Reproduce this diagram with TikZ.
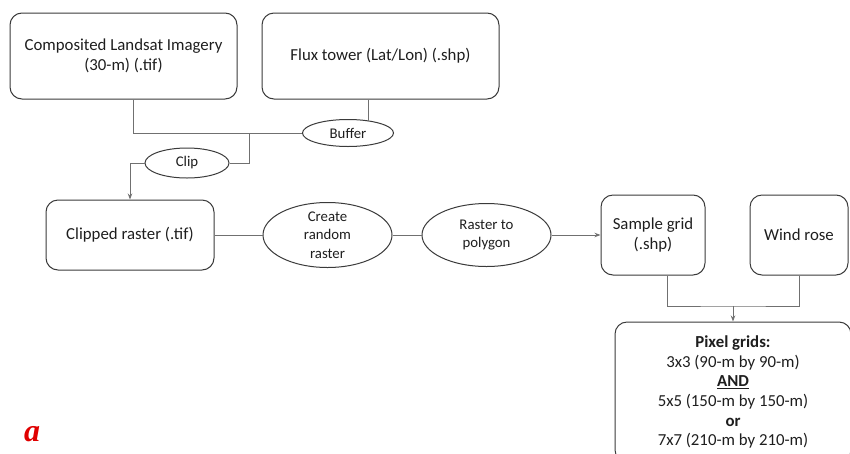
\documentclass[tikz,border=0pt]{standalone}
\usepackage{fontspec}
\setmainfont{Carlito}
\newfontfamily\tagfont{Liberation Serif}
\usepackage{xcolor}
\definecolor{boxLine}{HTML}{3A3A3A}
\definecolor{wireGray}{HTML}{707070}
\definecolor{textDark}{HTML}{1E1E1E}
\definecolor{labelRed}{HTML}{E00000}
\usetikzlibrary{arrows.meta, shapes.geometric}

\begin{document}
\begin{tikzpicture}[
		x=1pt, y=-1pt,
		box/.style={
			draw=boxLine,
			line width=1pt,
			rounded corners=12pt,
			align=center,
			text=textDark,
			font=\fontsize{16.8}{19.7}\selectfont
		},
		tool/.style={
			draw=boxLine,
			ellipse,
			line width=1pt,
			align=center,
			inner xsep=0pt,
			text=textDark,
			font=\fontsize{14.8}{18.5}\selectfont
		},
		wire/.style={draw=wireGray, line width=1pt},
		arrow/.style={wire, -{Stealth[length=6pt, width=4.5pt]}}
		]
		
		\clip (0,0) rectangle (850,453);
		
		\node[box, minimum width=227pt, minimum height=86pt] (landsat) at (123.5,56) {Composited Landsat Imagery\\(30-m) (.tif)};
		\node[box, minimum width=237pt, minimum height=86pt] (flux) at (380.5,56) {Flux tower (Lat/Lon) (.shp)};
		\node[tool, minimum width=91pt, minimum height=27pt] (buffer) at (348,133) {Buffer};
		\node[tool, minimum width=84pt, minimum height=30pt] (clip) at (187,163) {Clip};
		\node[box, minimum width=168pt, minimum height=70pt] (clipped) at (130,235) {Clipped raster (.tif)};
		\node[tool, minimum width=129pt, minimum height=65pt, inner ysep=-8pt] (random) at (327.5,235) {Create\\random\\raster};
		\node[tool, minimum width=129pt, minimum height=63pt] (topoly) at (486.5,235) {Raster to\\polygon};
		\node[box, minimum width=104pt, minimum height=80pt] (grid) at (653,235) {Sample grid\\(.shp)};
		\node[box, minimum width=98pt, minimum height=80pt] (wind) at (799,235) {Wind rose};
		\node[box, minimum width=236pt, minimum height=140pt] (pixel) at (733,392) {\textbf{Pixel grids:}\\3x3 (90-m by 90-m)\\\underline{\textbf{AND}}\\5x5 (150-m by 150-m)\\\textbf{or}\\7x7 (210-m by 210-m)};
		\node[text=labelRed, font=\fontsize{32}{32}\selectfont\tagfont\bfseries\itshape] (tag) at (32,434) {a};
		
		\coordinate (join) at (249,0 |- buffer.west);
		\coordinate (merge) at (733,306);
		
		\draw[wire] ([xshift=9.5pt]landsat.south) |- (buffer.west);
		\draw[wire] (flux.south -| buffer.31) -- (buffer.31);
		\draw[wire] (join) |- (clip.east);
		\draw[arrow] (clip.west) -| (clipped.north);
		\draw[wire] (clipped) -- (random);
		\draw[wire] (random) -- (topoly);
		\draw[arrow] (topoly) -- (grid);
		\draw[wire] ([xshift=14pt]grid.south) |- (merge) -| (wind.south);
		\draw[arrow] (merge) -- (pixel.north);
		
	\end{tikzpicture}
\end{document}
